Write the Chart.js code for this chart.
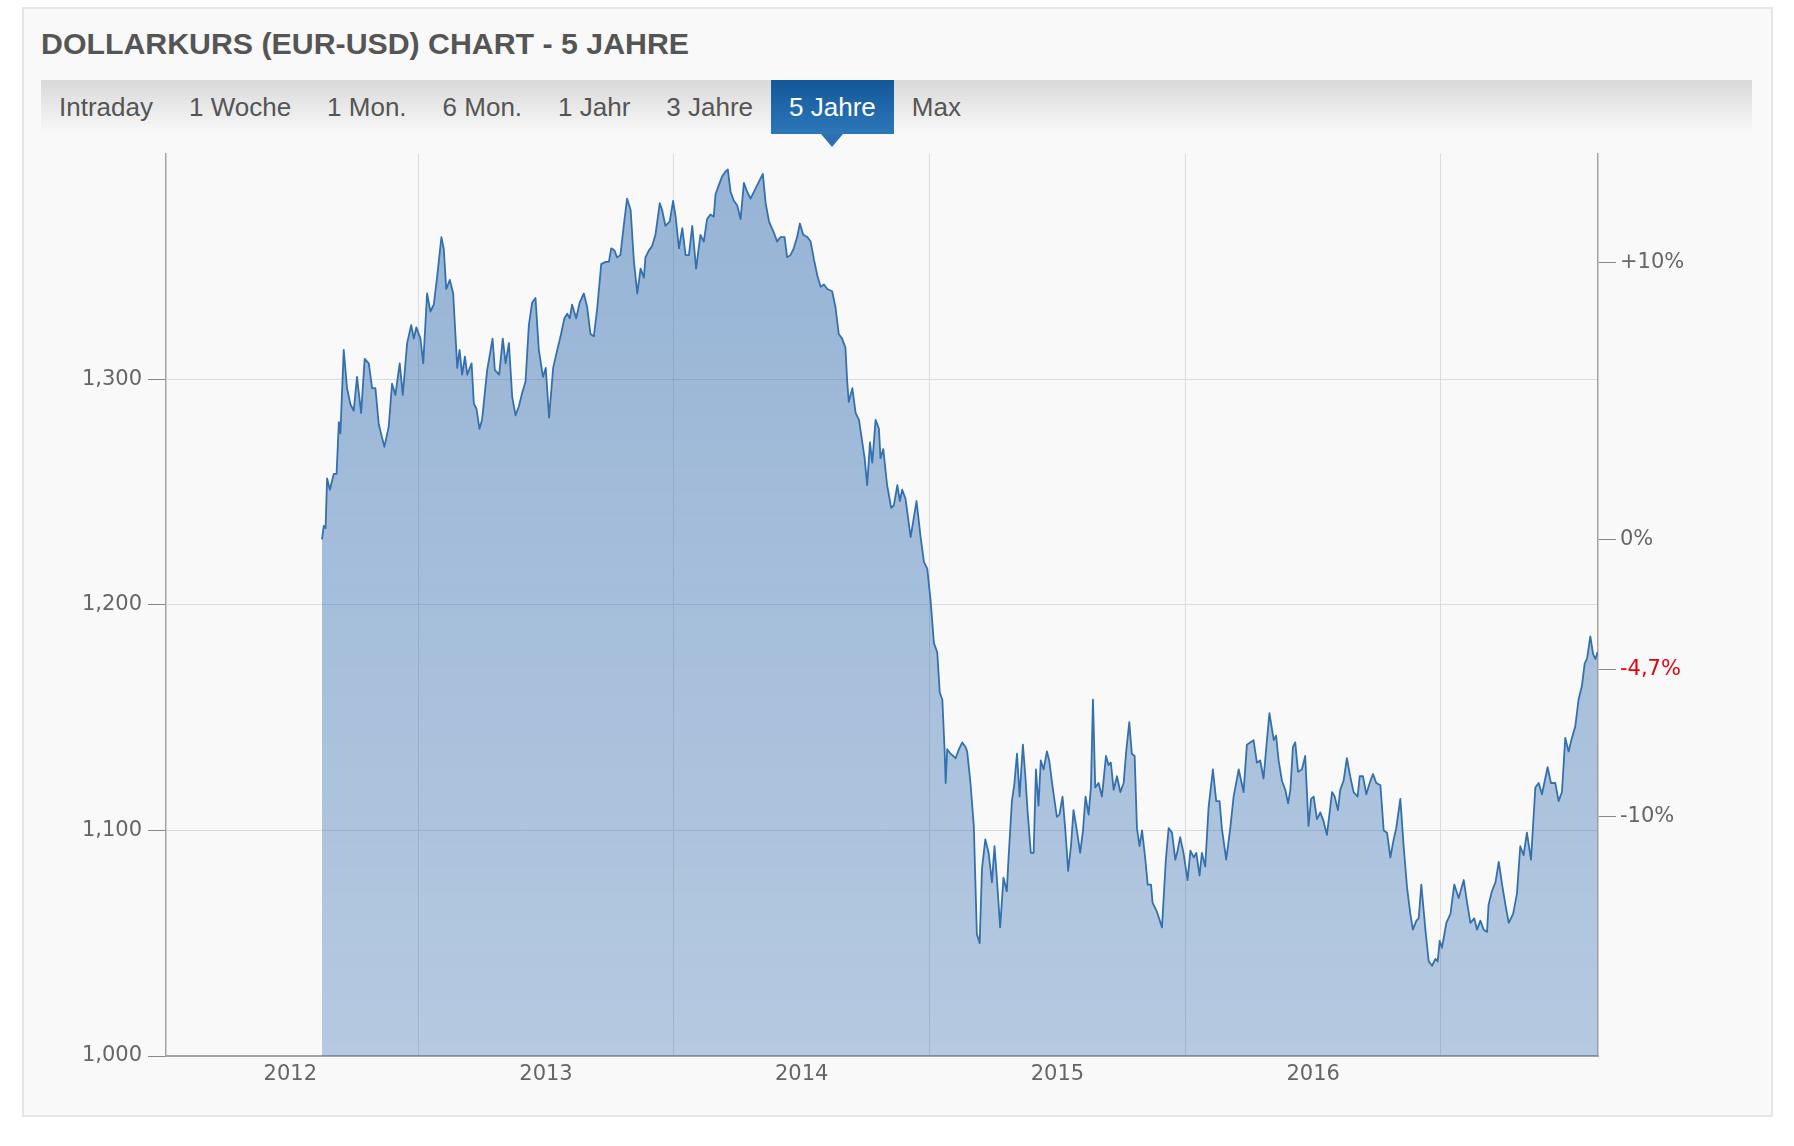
<!DOCTYPE html>
<html lang="de">
<head>
<meta charset="utf-8">
<title>Dollarkurs (EUR-USD) Chart - 5 Jahre</title>
<script src="https://cdn.jsdelivr.net/npm/chart.js@4.4.1/dist/chart.umd.min.js"></script>
<style>
  html, body { margin: 0; padding: 0; background: #fff; }
  body { width: 1794px; height: 1146px; position: relative; overflow: hidden; font-family: "Liberation Sans", Arial, sans-serif; }
  .panel { position: absolute; left: 22px; top: 7px; width: 1751px; height: 1110px; box-sizing: border-box; border: 2px solid #e6e6e6; background: #f9f9f9; }
  h1 { position: absolute; left: 41px; top: 28px; margin: 0; font-size: 30.3px; line-height: 32px; font-weight: bold; color: #555; white-space: nowrap; }
  .tabs { position: absolute; left: 41px; top: 80px; width: 1711px; height: 54px; background: linear-gradient(#d9d9d9, #f9f9f9); display: flex; }
  .tab { padding: 0 18px; font-size: 26px; line-height: 54px; color: #555; white-space: nowrap; position: relative; }
  .tab.active { background: linear-gradient(#125899, #2d77b9); color: #fff; }
  .tab.active::after { content: ''; position: absolute; left: 50%; top: 54px; margin-left: -11px; border-left: 11px solid transparent; border-right: 11px solid transparent; border-top: 13px solid #2c70b0; }
  .chart-box { position: absolute; left: 24px; top: 135px; width: 1756px; height: 995px; }
</style>
</head>
<body>
<div class="panel"></div>
<h1>DOLLARKURS (EUR-USD) CHART - 5 JAHRE</h1>
<div class="tabs">
  <div class="tab">Intraday</div>
  <div class="tab">1 Woche</div>
  <div class="tab">1 Mon.</div>
  <div class="tab">6 Mon.</div>
  <div class="tab">1 Jahr</div>
  <div class="tab">3 Jahre</div>
  <div class="tab active">5 Jahre</div>
  <div class="tab">Max</div>
</div>
<div class="chart-box"><canvas id="kursChart"></canvas></div>

<script>
// Zeitpunkt als Dezimaljahr, Kurs EUR in USD
const times = [
  2012.624, 2012.631, 2012.638, 2012.644, 2012.655, 2012.670, 2012.681, 2012.690, 2012.696, 2012.709,
  2012.722, 2012.735, 2012.748, 2012.761, 2012.777, 2012.791, 2012.807, 2012.820, 2012.833, 2012.846,
  2012.868, 2012.885, 2012.898, 2012.911, 2012.928, 2012.940, 2012.957, 2012.973, 2012.983, 2012.993,
  2013.009, 2013.020, 2013.035, 2013.048, 2013.061, 2013.074, 2013.091, 2013.100, 2013.110, 2013.124,
  2013.137, 2013.153, 2013.162, 2013.172, 2013.183, 2013.192, 2013.209, 2013.218, 2013.228, 2013.240,
  2013.250, 2013.270, 2013.291, 2013.300, 2013.317, 2013.331, 2013.342, 2013.355, 2013.368, 2013.381,
  2013.394, 2013.407, 2013.420, 2013.433, 2013.446, 2013.459, 2013.472, 2013.488, 2013.499, 2013.512,
  2013.528, 2013.544, 2013.557, 2013.572, 2013.583, 2013.593, 2013.602, 2013.618, 2013.632, 2013.648,
  2013.661, 2013.674, 2013.687, 2013.700, 2013.716, 2013.733, 2013.746, 2013.755, 2013.768, 2013.778,
  2013.791, 2013.804, 2013.817, 2013.831, 2013.844, 2013.857, 2013.870, 2013.883, 2013.889, 2013.902,
  2013.915, 2013.928, 2013.945, 2013.954, 2013.967, 2013.984, 2013.997,
  2014.007, 2014.020, 2014.033, 2014.046, 2014.059, 2014.072, 2014.087, 2014.104, 2014.117, 2014.130,
  2014.143, 2014.156, 2014.163, 2014.176, 2014.189, 2014.202, 2014.211, 2014.222, 2014.235, 2014.248,
  2014.261, 2014.274, 2014.287, 2014.300, 2014.313, 2014.326, 2014.348, 2014.359, 2014.372, 2014.391,
  2014.404, 2014.417, 2014.433, 2014.443, 2014.456, 2014.469, 2014.482, 2014.493, 2014.506, 2014.522,
  2014.535, 2014.548, 2014.561, 2014.574, 2014.587, 2014.600, 2014.619, 2014.632, 2014.645, 2014.658,
  2014.671, 2014.678, 2014.684, 2014.698, 2014.711, 2014.724, 2014.737, 2014.746, 2014.756, 2014.767,
  2014.776, 2014.789, 2014.802, 2014.808, 2014.819, 2014.834, 2014.850, 2014.860, 2014.874, 2014.884,
  2014.893, 2014.906, 2014.926, 2014.939, 2014.949, 2014.965, 2014.978, 2014.991,
  2015.004, 2015.017, 2015.030, 2015.040, 2015.050, 2015.059, 2015.063, 2015.069, 2015.082, 2015.102,
  2015.115, 2015.128, 2015.141, 2015.147, 2015.160, 2015.173, 2015.185, 2015.196, 2015.205, 2015.218,
  2015.231, 2015.244, 2015.254, 2015.263, 2015.276, 2015.289, 2015.302, 2015.309, 2015.322, 2015.331,
  2015.342, 2015.352, 2015.365, 2015.374, 2015.383, 2015.396, 2015.407, 2015.416, 2015.426, 2015.435,
  2015.446, 2015.459, 2015.468, 2015.478, 2015.489, 2015.498, 2015.508, 2015.520, 2015.531, 2015.542,
  2015.553, 2015.563, 2015.576, 2015.589, 2015.600, 2015.610, 2015.622, 2015.631, 2015.639, 2015.648,
  2015.661, 2015.674, 2015.690, 2015.700, 2015.709, 2015.720, 2015.733, 2015.746, 2015.759, 2015.769,
  2015.781, 2015.791, 2015.802, 2015.811, 2015.821, 2015.831, 2015.844, 2015.853, 2015.866, 2015.872,
  2015.889, 2015.909, 2015.924, 2015.935, 2015.948, 2015.961, 2015.970, 2015.980, 2015.993,
  2016.009, 2016.020, 2016.033, 2016.043, 2016.056, 2016.065, 2016.078, 2016.091, 2016.108, 2016.121,
  2016.134, 2016.143, 2016.160, 2016.176, 2016.189, 2016.209, 2016.228, 2016.241, 2016.254, 2016.267,
  2016.280, 2016.293, 2016.306, 2016.317, 2016.329, 2016.346, 2016.355, 2016.365, 2016.378, 2016.391,
  2016.402, 2016.411, 2016.421, 2016.430, 2016.441, 2016.456, 2016.469, 2016.482, 2016.492, 2016.502,
  2016.515, 2016.528, 2016.541, 2016.554, 2016.574, 2016.584, 2016.597, 2016.606, 2016.619, 2016.632,
  2016.645, 2016.658, 2016.674, 2016.682, 2016.695, 2016.708, 2016.721, 2016.734, 2016.747, 2016.763,
  2016.776, 2016.789, 2016.802, 2016.815, 2016.825, 2016.841, 2016.854, 2016.867, 2016.880, 2016.890,
  2016.904, 2016.913, 2016.923, 2016.939, 2016.952, 2016.965, 2016.978, 2016.987, 2016.995,
  2017.004, 2017.021, 2017.037, 2017.052, 2017.069, 2017.089, 2017.102, 2017.115, 2017.130, 2017.141,
  2017.154, 2017.167, 2017.180, 2017.186, 2017.199, 2017.213, 2017.226, 2017.239, 2017.252, 2017.265,
  2017.282, 2017.297, 2017.310, 2017.323, 2017.336, 2017.352, 2017.369, 2017.382, 2017.395, 2017.404,
  2017.417, 2017.430, 2017.447, 2017.460, 2017.473, 2017.486, 2017.499, 2017.512, 2017.525, 2017.538,
  2017.551, 2017.562, 2017.571, 2017.584, 2017.595, 2017.604, 2017.612
];

const rates = [
  1.229, 1.235, 1.234, 1.256, 1.251, 1.258, 1.258, 1.281, 1.276, 1.313,
  1.296, 1.289, 1.286, 1.301, 1.285, 1.309, 1.307, 1.296, 1.296, 1.280,
  1.270, 1.279, 1.298, 1.293, 1.307, 1.293, 1.316, 1.324, 1.318, 1.323,
  1.318, 1.307, 1.338, 1.330, 1.333, 1.345, 1.363, 1.358, 1.340, 1.344,
  1.338, 1.305, 1.313, 1.302, 1.310, 1.302, 1.307, 1.289, 1.287, 1.278,
  1.282, 1.304, 1.318, 1.304, 1.302, 1.318, 1.307, 1.316, 1.292, 1.284,
  1.288, 1.294, 1.299, 1.324, 1.334, 1.336, 1.313, 1.301, 1.305, 1.283,
  1.305, 1.313, 1.319, 1.327, 1.329, 1.327, 1.333, 1.327, 1.334, 1.338,
  1.332, 1.320, 1.319, 1.331, 1.351, 1.352, 1.352, 1.358, 1.357, 1.354,
  1.355, 1.368, 1.380, 1.375, 1.352, 1.338, 1.349, 1.345, 1.354, 1.357,
  1.359, 1.364, 1.378, 1.375, 1.368, 1.370, 1.379,
  1.372, 1.358, 1.367, 1.355, 1.355, 1.368, 1.349, 1.364, 1.361, 1.371,
  1.373, 1.372, 1.382, 1.386, 1.390, 1.392, 1.393, 1.383, 1.379, 1.377,
  1.371, 1.387, 1.383, 1.380, 1.383, 1.386, 1.391, 1.378, 1.370, 1.365,
  1.361, 1.363, 1.363, 1.354, 1.355, 1.358, 1.363, 1.369, 1.364, 1.363,
  1.361, 1.353, 1.346, 1.341, 1.342, 1.340, 1.339, 1.332, 1.320, 1.318,
  1.314, 1.299, 1.290, 1.296, 1.285, 1.282, 1.272, 1.265, 1.253, 1.272,
  1.263, 1.282, 1.278, 1.265, 1.269, 1.253, 1.243, 1.244, 1.253, 1.246,
  1.251, 1.247, 1.230, 1.239, 1.246, 1.230, 1.219, 1.216,
  1.202, 1.183, 1.179, 1.161, 1.158, 1.135, 1.121, 1.136, 1.134, 1.132,
  1.136, 1.139, 1.137, 1.135, 1.121, 1.102, 1.054, 1.050, 1.083, 1.096,
  1.090, 1.077, 1.093, 1.079, 1.057, 1.079, 1.073, 1.088, 1.113, 1.120,
  1.134, 1.115, 1.138, 1.125, 1.109, 1.090, 1.090, 1.127, 1.111, 1.131,
  1.127, 1.135, 1.131, 1.122, 1.113, 1.106, 1.107, 1.115, 1.100, 1.082,
  1.093, 1.109, 1.100, 1.090, 1.100, 1.115, 1.107, 1.119, 1.158, 1.119,
  1.121, 1.115, 1.133, 1.129, 1.130, 1.118, 1.124, 1.117, 1.121, 1.135,
  1.148, 1.134, 1.133, 1.101, 1.093, 1.100, 1.087, 1.076, 1.076, 1.068,
  1.064, 1.057, 1.087, 1.101, 1.099, 1.087, 1.091, 1.097, 1.090,
  1.078, 1.091, 1.088, 1.090, 1.080, 1.090, 1.084, 1.110, 1.127, 1.113,
  1.113, 1.101, 1.087, 1.101, 1.115, 1.127, 1.117, 1.138, 1.139, 1.140,
  1.130, 1.131, 1.123, 1.137, 1.152, 1.140, 1.142, 1.131, 1.122, 1.118,
  1.112, 1.118, 1.137, 1.139, 1.126, 1.127, 1.133, 1.102, 1.114, 1.115,
  1.105, 1.108, 1.104, 1.098, 1.117, 1.115, 1.109, 1.118, 1.122, 1.132,
  1.124, 1.117, 1.115, 1.124, 1.124, 1.116, 1.121, 1.125, 1.121, 1.120,
  1.100, 1.099, 1.088, 1.096, 1.101, 1.114, 1.093, 1.075, 1.063, 1.056,
  1.060, 1.061, 1.076, 1.056, 1.042, 1.040, 1.043, 1.042, 1.051,
  1.048, 1.059, 1.063, 1.076, 1.070, 1.078, 1.068, 1.059, 1.061, 1.056,
  1.060, 1.056, 1.055, 1.067, 1.073, 1.077, 1.086, 1.076, 1.067, 1.059,
  1.063, 1.072, 1.093, 1.089, 1.099, 1.087, 1.119, 1.121, 1.116, 1.121,
  1.128, 1.121, 1.121, 1.113, 1.117, 1.141, 1.135, 1.141, 1.146, 1.158,
  1.164, 1.174, 1.176, 1.186, 1.178, 1.176, 1.179
];

const yTicks = [1.0, 1.1, 1.2, 1.3];
const yearLines = [2013, 2014, 2015, 2016, 2017];
const yearLabels = [2012, 2013, 2014, 2015, 2016];
const pctTicks = [10, 0, -4.7, -10];
const pctLabels = ['+10%', '0%', '-4,7%', '-10%'];
const lastPct = -4.7;
const baseRate = 1.229;   // Startkurs = 0%
const xMin = 2012.014, xMax = 2017.614;
const yMin = 1.0, yMax = 1.4;

const tickFont = { family: "'DejaVu Sans', Verdana, sans-serif", size: 21 };

function areaFill(ctx) {
  const chart = ctx.chart;
  const area = chart.chartArea;
  if (!area) return 'rgba(30,95,170,0.38)';
  const g = chart.ctx.createLinearGradient(0, area.top, 0, area.bottom);
  g.addColorStop(0, 'rgba(30,95,170,0.45)');
  g.addColorStop(1, 'rgba(30,95,170,0.31)');
  return g;
}

new Chart(document.getElementById('kursChart'), {
  type: 'line',
  data: {
    datasets: [{
      data: times.map((t, i) => ({ x: t, y: rates[i] })),
      borderColor: '#3470ae',
      borderWidth: 1.8,
      borderJoinStyle: 'round',
      backgroundColor: areaFill,
      fill: 'start',
      pointRadius: 0,
      tension: 0,
      xAxisID: 'x',
      yAxisID: 'y'
    }]
  },
  options: {
    responsive: true,
    maintainAspectRatio: false,
    animation: false,
    devicePixelRatio: 1,
    layout: { padding: { top: 13, left: 0, right: 0, bottom: 0 } },
    plugins: { legend: { display: false }, tooltip: { enabled: false } },
    scales: {
      x: {
        type: 'linear', position: 'bottom', min: xMin, max: xMax, weight: 0,
        afterBuildTicks: s => { s.ticks = yearLines.map(v => ({ value: v })); },
        afterFit: s => { s.height = 0; },
        grid: { color: '#dcdcdc', drawTicks: false },
        border: { display: true, color: '#a3a3a3', width: 2 },
        ticks: { display: false }
      },
      xLabels: {
        type: 'linear', position: 'bottom', min: xMin, max: xMax, weight: 1,
        afterBuildTicks: s => { s.ticks = yearLabels.map(y => ({ value: y + 0.5 })); },
        afterFit: s => { s.height = 74; },
        grid: { display: false, drawTicks: false },
        border: { display: false },
        ticks: {
          font: tickFont, color: '#666', padding: 6, maxRotation: 0, autoSkip: false,
          callback: v => String(Math.floor(v))
        }
      },
      y: {
        type: 'linear', position: 'left', min: yMin, max: yMax,
        afterBuildTicks: s => { s.ticks = yTicks.map(v => ({ value: v })); },
        afterFit: s => { s.width = 142; },
        grid: { color: '#dcdcdc', tickColor: '#888', tickLength: 18 },
        border: { display: true, color: '#a3a3a3', width: 1.5 },
        ticks: {
          font: tickFont, color: '#666', padding: 6,
          callback: v => v.toFixed(3).replace('.', ',')
        }
      },
      pct: {
        type: 'linear', position: 'right',
        min: (yMin / baseRate - 1) * 100, max: (yMax / baseRate - 1) * 100,
        afterBuildTicks: s => { s.ticks = pctTicks.map(v => ({ value: v })); },
        afterFit: s => { s.width = 182; },
        grid: { drawOnChartArea: false, color: '#888', tickLength: 18 },
        border: { display: true, color: '#a3a3a3', width: 1.5 },
        ticks: {
          font: tickFont, padding: 4,
          color: c => (c.tick && c.tick.value === lastPct) ? '#e3000f' : '#666',
          callback: v => pctLabels[pctTicks.indexOf(v)]
        }
      }
    }
  }
});
</script>
</body>
</html>
